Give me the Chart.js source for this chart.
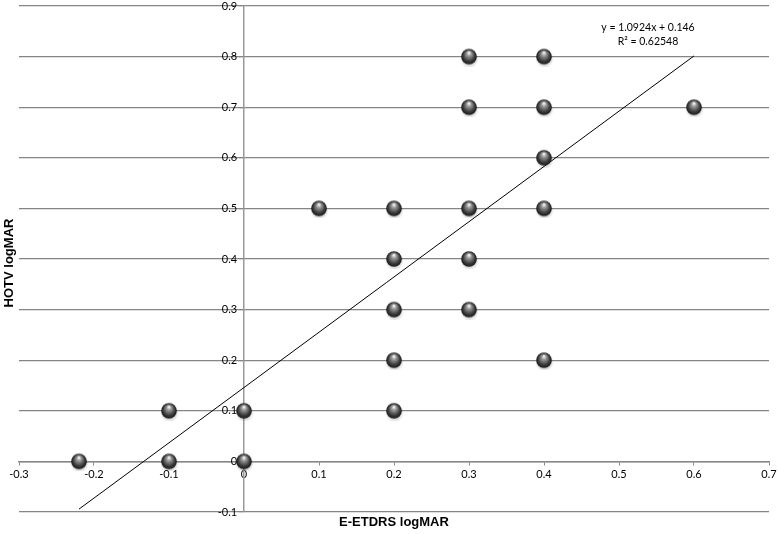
<!DOCTYPE html>
<html>
<head>
<meta charset="utf-8">
<script src="https://cdn.jsdelivr.net/npm/chart.js@4"></script>
<style>
  html, body { margin: 0; padding: 0; background: #fff; }
  #wrap { width: 778px; height: 534px; }
</style>
</head>
<body>
<div id="wrap"><canvas id="chart"></canvas></div>
<script>
const etdrs = [-0.22, -0.1, -0.1, 0, 0, 0.1, 0.2, 0.2, 0.2, 0.2, 0.2, 0.3, 0.3, 0.3, 0.3, 0.3, 0.4, 0.4, 0.4, 0.4, 0.4, 0.6];
const hotv = [0, 0.1, 0, 0.1, 0, 0.5, 0.5, 0.4, 0.3, 0.2, 0.1, 0.8, 0.7, 0.5, 0.4, 0.3, 0.8, 0.7, 0.6, 0.5, 0.2, 0.7];

const trendX = [-0.22, 0.6];
const trendY = [-0.0943, 0.8014];
const trendLabel = ["y = 1.0924x + 0.146", "R\u00b2 = 0.62548"];

const xTitle = "E-ETDRS logMAR";
const yTitle = "HOTV logMAR";

const tickFont = "Lato, 'Open Sans', sans-serif";

// little shaded ball used as the marker
const ball = document.createElement("canvas");
ball.width = 20;
ball.height = 20;
(() => {
  const c = ball.getContext("2d");
  const sh = c.createRadialGradient(10.5, 12, 2, 10.5, 12, 9.5);
  sh.addColorStop(0, "rgba(0,0,0,0.35)");
  sh.addColorStop(1, "rgba(0,0,0,0)");
  c.fillStyle = sh;
  c.beginPath();
  c.arc(10.5, 12, 9.5, 0, Math.PI * 2);
  c.fill();
  const g = c.createRadialGradient(10, 6, 0.5, 10, 10, 8);
  g.addColorStop(0, "#f4f4f4");
  g.addColorStop(0.25, "#9a9a9a");
  g.addColorStop(0.7, "#3c3c3c");
  g.addColorStop(1, "#151515");
  c.fillStyle = g;
  c.beginPath();
  c.arc(10, 10, 7.8, 0, Math.PI * 2);
  c.fill();
})();

const titles = {
  id: "titles",
  afterDraw(chart) {
    const { ctx } = chart;
    ctx.save();
    ctx.fillStyle = "#000";
    ctx.font = "bold 13px 'Liberation Sans', Arial, sans-serif";
    ctx.textAlign = "center";
    ctx.textBaseline = "middle";
    ctx.fillText(xTitle, chart.scales.x.getPixelForValue(0.2), 522);
    ctx.translate(9, chart.scales.y.getPixelForValue(0.4) + 4);
    ctx.rotate(-Math.PI / 2);
    ctx.fillText(yTitle, 0, 0);
    ctx.restore();

    ctx.save();
    ctx.fillStyle = "#000";
    ctx.font = "10.5px " + tickFont;
    ctx.textAlign = "center";
    ctx.textBaseline = "middle";
    ctx.fillText(trendLabel[0], 648, 28);
    ctx.fillText(trendLabel[1], 648, 42);
    ctx.restore();
  },
};

const noPad = (scale) => {
  scale.paddingTop = 0;
  scale.paddingBottom = 0;
  scale.paddingLeft = 0;
  scale.paddingRight = 0;
};

const fmt = (v) => String(Math.round(v * 10) / 10);

new Chart(document.getElementById("chart"), {
  type: "scatter",
  plugins: [titles],
  data: {
    datasets: [
      {
        label: "HOTV",
        data: etdrs.map((x, i) => ({ x, y: hotv[i] })),
        pointStyle: ball,
        pointRadius: 8,
        pointHoverRadius: 8,
        order: 1,
      },
      {
        label: "Linear",
        type: "line",
        data: trendX.map((x, i) => ({ x, y: trendY[i] })),
        borderColor: "#000",
        borderWidth: 1,
        pointRadius: 0,
        fill: false,
        order: 2,
      },
    ],
  },
  options: {
    responsive: true,
    maintainAspectRatio: false,
    animation: false,
    layout: { autoPadding: false, padding: { left: 19, right: 9, top: 6, bottom: 22 } },
    plugins: {
      legend: { display: false },
      tooltip: { enabled: false },
    },
    scales: {
      x: {
        type: "linear",
        position: { y: 0 },
        min: -0.3,
        max: 0.7,
        afterFit: noPad,
        ticks: {
          stepSize: 0.1,
          color: "#000",
          font: { family: tickFont, size: 11 },
          padding: 3,
          callback: fmt,
        },
        grid: { display: true, drawOnChartArea: false, drawTicks: true, tickLength: 3, color: "#888" },
        border: { display: true, color: "#888", width: 1.5 },
      },
      y: {
        type: "linear",
        position: { x: 0 },
        min: -0.1,
        max: 0.9,
        afterFit: noPad,
        ticks: {
          stepSize: 0.1,
          color: "#000",
          font: { family: tickFont, size: 11 },
          // labels sit flush on the axis here, so pad them off it
          callback: (v) => fmt(v) + "\u2002\u2009",
        },
        grid: { color: "#858585", lineWidth: 1.2, drawTicks: true, tickLength: 4 },
        border: { display: true, color: "#999", width: 1.5 },
      },
    },
  },
});
</script>
</body>
</html>
